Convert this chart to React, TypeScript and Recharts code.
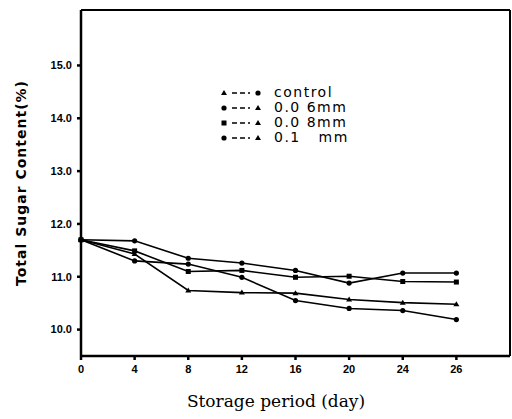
import { Line, LineChart, ReferenceLine, XAxis, YAxis } from "recharts";

const DAYS = [0, 4, 8, 12, 16, 20, 24, 28];
const X_TICK_LABELS = ["0", "4", "8", "12", "16", "20", "24", "26"];
const Y_TICKS = [10, 11, 12, 13, 14, 15];

const CONTROL = [11.7, 11.43, 10.74, 10.7, 10.69, 10.57, 10.51, 10.48];
const MM_006 = [11.7, 11.68, 11.35, 11.26, 11.12, 10.88, 11.07, 11.07];
const MM_008 = [11.7, 11.49, 11.1, 11.12, 10.99, 11.01, 10.91, 10.9];
const MM_01 = [11.7, 11.3, 11.24, 10.99, 10.55, 10.4, 10.36, 10.19];

const Y_MIN = 9.5;
const Y_MAX = 16.05;
const X_MAX = 32;

const SERIES = [
  { key: "control", label: "control", values: CONTROL, shape: "tri" },
  { key: "mm006", label: "0.0 6mm", values: MM_006, shape: "dot" },
  { key: "mm008", label: "0.0 8mm", values: MM_008, shape: "sq" },
  { key: "mm01", label: "0.1   mm", values: MM_01, shape: "dot" },
];

const data = DAYS.map((day, i) => {
  const row: Record<string, number> = { day };
  for (const s of SERIES) row[s.key] = s.values[i];
  return row;
});

function Marker({ cx, cy, shape }: { cx?: number; cy?: number; shape: string }) {
  if (cx == null || cy == null) return null;
  if (shape === "tri")
    return <polygon points={`${cx},${cy - 3} ${cx - 3},${cy + 2} ${cx + 3},${cy + 2}`} fill="#000" />;
  if (shape === "sq") return <rect x={cx - 2.5} y={cy - 2.5} width={5} height={5} fill="#000" />;
  return <circle cx={cx} cy={cy} r={2.6} fill="#000" />;
}

function LegendBox() {
  return (
    <div
      style={{
        position: "absolute",
        left: 220,
        top: 85,
        fontFamily: "DejaVu Sans",
        fontSize: 14,
        lineHeight: "15px",
        color: "#000",
      }}
    >
      {SERIES.map((s) => (
        <div key={s.key} style={{ display: "flex", alignItems: "center", height: 15 }}>
          <svg width={44} height={10}>
            <Marker cx={4} cy={5} shape={s.shape} />
            <line x1={12} y1={5} x2={30} y2={5} stroke="#000" strokeWidth={1.5} strokeDasharray="5 3" />
            <Marker cx={38} cy={5} shape={s.shape === "tri" ? "dot" : "tri"} />
          </svg>
          <span style={{ marginLeft: 10, letterSpacing: 1.5, whiteSpace: "pre" }}>{s.label}</span>
        </div>
      ))}
    </div>
  );
}

const tickStyle = { fontSize: 11, fill: "#000", fontWeight: 700, fontFamily: "Liberation Sans" };

export default function App() {
  return (
    <div style={{ position: "absolute", left: 0, top: 0, width: 512, height: 419, background: "#fff" }}>
      <LineChart width={512} height={419} data={data} margin={{ top: 10, right: 2, left: 0, bottom: 33 }}>
        <XAxis
          dataKey="day"
          type="number"
          domain={[0, X_MAX]}
          ticks={DAYS}
          tickFormatter={(v) => X_TICK_LABELS[DAYS.indexOf(v)] ?? ""}
          tick={tickStyle}
          tickSize={4}
          tickMargin={5}
          stroke="#000"
          strokeWidth={2.5}
          height={30}
        />
        <YAxis
          domain={[Y_MIN, Y_MAX]}
          ticks={Y_TICKS}
          tickFormatter={(v) => Number(v).toFixed(1)}
          tick={tickStyle}
          tickSize={4}
          tickMargin={5}
          stroke="#000"
          strokeWidth={2.5}
          width={81}
          label={{
            value: "Total Sugar Content(%)",
            angle: -90,
            position: "insideLeft",
            offset: 21,
            style: { textAnchor: "middle", fontFamily: "DejaVu Sans", fontWeight: 700, fontSize: 14, fill: "#000", letterSpacing: 1 },
          }}
        />
        <ReferenceLine y={Y_MAX} stroke="#000" strokeWidth={2} />
        <ReferenceLine x={X_MAX} stroke="#000" strokeWidth={2} />
        {SERIES.map((s) => (
          <Line
            key={s.key}
            dataKey={s.key}
            type="linear"
            stroke="#000"
            strokeWidth={1.6}
            dot={(p: any) => <Marker key={`${s.key}-${p.index}`} cx={p.cx} cy={p.cy} shape={s.shape} />}
            activeDot={false}
            isAnimationActive={false}
          />
        ))}
      </LineChart>
      <LegendBox />
      <div
        style={{
          position: "absolute",
          top: 391,
          left: 0,
          width: 552,
          textAlign: "center",
          fontFamily: "DejaVu Serif",
          fontSize: 17,
          color: "#000",
        }}
      >
        Storage period (day)
      </div>
    </div>
  );
}
